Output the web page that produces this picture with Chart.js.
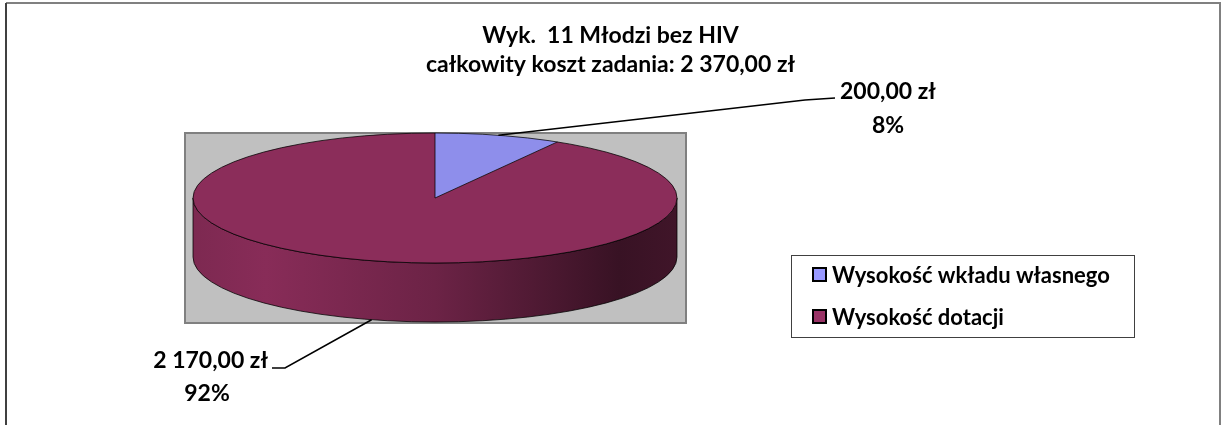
<!DOCTYPE html>
<html>
<head>
<meta charset="utf-8">
<script src="https://cdn.jsdelivr.net/npm/chart.js@4.4.1/dist/chart.umd.min.js"></script>
<style>
    html, body { margin: 0; padding: 0; background: #fff; }
    #wrap { width: 1221px; height: 425px; }
</style>
</head>
<body>
<div id="wrap"><canvas id="pieChart" width="1221" height="425"></canvas></div>
<script>
// Chart data
const categories = ["Wysokość wkładu własnego", "Wysokość dotacji"];
const amounts = [200, 2170];
const amountLabels = ["200,00 zł", "2 170,00 zł"];
const percentLabels = ["8%", "92%"];
const titleLines = ["Wyk.  11 Młodzi bez HIV", "całkowity koszt zadania: 2 370,00 zł"];

// Layout of the fake 3D pie
const pie = { cx: 435, cy: 198, rx: 242, ry: 65, depth: 59 };
const FONT = "Lato, 'Open Sans', sans-serif";

function shade(hex, f) {
    const n = parseInt(hex.slice(1), 16);
    const r = Math.round(((n >> 16) & 255) * f);
    const g = Math.round(((n >> 8) & 255) * f);
    const b = Math.round((n & 255) * f);
    return `rgb(${r},${g},${b})`;
}

const pie3d = {
    id: "pie3d",
    beforeDraw(chart) {
        const ctx = chart.ctx;
        ctx.save();
        // outer frame
        ctx.lineWidth = 2;
        ctx.strokeStyle = "#808080";
        ctx.beginPath();
        ctx.moveTo(6, 3); ctx.lineTo(1221, 3);
        ctx.moveTo(1220, 3); ctx.lineTo(1220, 425);
        ctx.stroke();
        ctx.strokeStyle = "#404040";
        ctx.beginPath();
        ctx.moveTo(6, 3); ctx.lineTo(6, 425);
        ctx.stroke();
        // plot area
        ctx.fillStyle = "#c0c0c0";
        ctx.fillRect(185, 133, 501, 190);
        ctx.strokeStyle = "#808080";
        ctx.strokeRect(185, 133, 501, 190);
        ctx.restore();
    },
    beforeDatasetDraw(chart) {
        const ctx = chart.ctx;
        const arcs = chart.getDatasetMeta(0).data;
        // side walls, front half only
        arcs.forEach(arc => {
            const lo = Math.max(arc.startAngle, 0);
            const hi = Math.min(arc.endAngle, Math.PI);
            if (lo >= hi) return;
            const col = arc.options.backgroundColor;
            const grad = ctx.createLinearGradient(pie.cx - pie.rx, 0, pie.cx + pie.rx, 0);
            grad.addColorStop(0, shade(col, 0.9));
            grad.addColorStop(0.15, shade(col, 0.98));
            grad.addColorStop(0.5, shade(col, 0.78));
            grad.addColorStop(0.88, shade(col, 0.4));
            grad.addColorStop(1, shade(col, 0.46));
            ctx.save();
            ctx.beginPath();
            ctx.ellipse(pie.cx, pie.cy, pie.rx, pie.ry, 0, lo, hi);
            ctx.ellipse(pie.cx, pie.cy + pie.depth, pie.rx, pie.ry, 0, hi, lo, true);
            ctx.closePath();
            ctx.fillStyle = grad;
            ctx.fill();
            ctx.lineWidth = 1;
            ctx.strokeStyle = "rgba(0,0,0,0.75)";
            ctx.stroke();
            ctx.restore();
        });
        // squash the flat pie into the top ellipse
        const a0 = arcs[0];
        ctx.save();
        ctx.translate(pie.cx, pie.cy);
        ctx.scale(pie.rx / a0.outerRadius, pie.ry / a0.outerRadius);
        ctx.translate(-a0.x, -a0.y);
    },
    afterDatasetDraw(chart) {
        const ctx = chart.ctx;
        ctx.restore();
        const arcs = chart.getDatasetMeta(0).data;
        ctx.save();
        ctx.lineWidth = 1;
        ctx.strokeStyle = "rgba(0,0,0,0.75)";
        ctx.beginPath();
        ctx.ellipse(pie.cx, pie.cy, pie.rx, pie.ry, 0, 0, Math.PI * 2);
        ctx.stroke();
        arcs.forEach(arc => {
            ctx.beginPath();
            ctx.moveTo(pie.cx, pie.cy);
            ctx.lineTo(pie.cx + pie.rx * Math.cos(arc.startAngle), pie.cy + pie.ry * Math.sin(arc.startAngle));
            ctx.stroke();
        });

        // data labels with leader lines
        ctx.strokeStyle = "#000";
        ctx.lineWidth = 1.5;
        ctx.fillStyle = "#000";
        ctx.font = "bold 23px " + FONT;
        ctx.textBaseline = "middle";
        arcs.forEach((arc, i) => {
            const mid = (arc.startAngle + arc.endAngle) / 2;
            let px = pie.cx + pie.rx * Math.cos(mid);
            let py = pie.cy + pie.ry * Math.sin(mid);
            if (Math.sin(mid) > 0) py += pie.depth;
            ctx.beginPath();
            ctx.moveTo(px, py);
            if (i === 0) {
                ctx.lineTo(805, 100); ctx.lineTo(835, 98);
                ctx.stroke();
                ctx.textAlign = "left";
                ctx.fillText(amountLabels[i], 840, 92);
                ctx.textAlign = "center";
                ctx.fillText(percentLabels[i], 888, 126);
            } else {
                ctx.lineTo(285, 368); ctx.lineTo(272, 368);
                ctx.stroke();
                ctx.textAlign = "right";
                ctx.fillText(amountLabels[i], 268, 361);
                ctx.textAlign = "center";
                ctx.fillText(percentLabels[i], 207, 394);
            }
        });

        // legend
        ctx.lineWidth = 1;
        ctx.strokeStyle = "#404040";
        ctx.strokeRect(791.5, 255.5, 343, 82);
        ctx.font = "bold 22px " + FONT;
        ctx.textAlign = "left";
        const legendColors = ["#9999ff", "#993366"];
        chart.data.labels.forEach((lab, i) => {
            const y = 275 + i * 42;
            ctx.fillStyle = legendColors[i];
            ctx.fillRect(813, y - 7, 13, 13);
            ctx.lineWidth = 2;
            ctx.strokeStyle = "#000";
            ctx.strokeRect(813, y - 7, 13, 13);
            ctx.fillStyle = "#000";
            ctx.fillText(lab, 832, y + 1);
        });
        ctx.restore();
    }
};

new Chart(document.getElementById("pieChart"), {
    type: "pie",
    data: {
        labels: categories,
        datasets: [{
            data: amounts,
            backgroundColor: ["#8e8eeb", "#8b2d5a"],
            borderWidth: 0
        }]
    },
    options: {
        responsive: false,
        animation: false,
        devicePixelRatio: 1,
        plugins: {
            legend: { display: false },
            tooltip: { enabled: false },
            title: {
                display: true,
                text: titleLines,
                color: "#000",
                font: { family: FONT, size: 23, weight: "bold", lineHeight: 1.22 },
                padding: { top: 22, bottom: 10 }
            }
        }
    },
    plugins: [pie3d]
});
</script>
</body>
</html>
